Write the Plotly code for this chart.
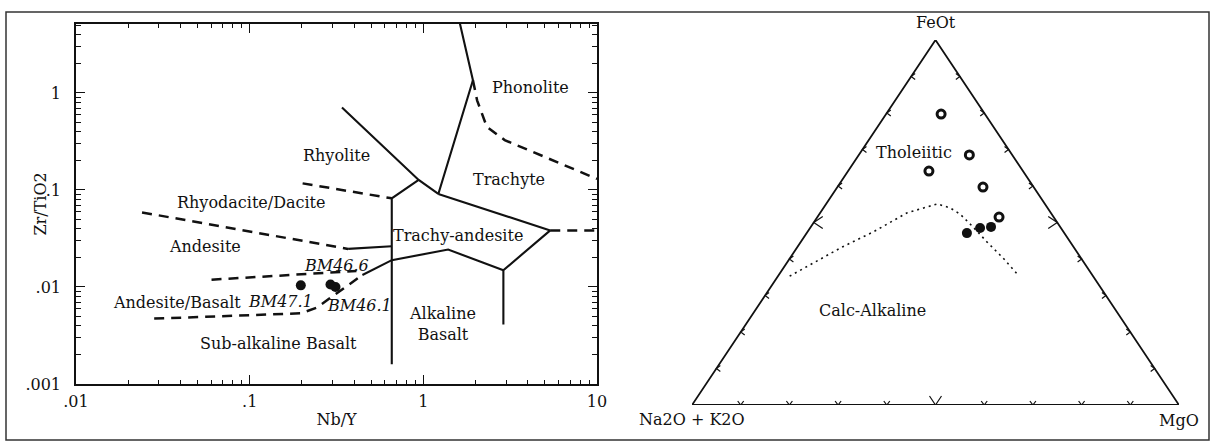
import numpy as np
import plotly.graph_objects as go

FONT = "DejaVu Serif"
INK = "#111111"

# ---------------- Left panel: Zr/TiO2 vs Nb/Y (Winchester & Floyd) ----------------
# solid field boundaries
b1_x = [1.62, 1.93, 1.22]
b1_y = [5.3, 1.35, 0.091]
b2_x = [0.34, 0.94, 1.22]
b2_y = [0.71, 0.127, 0.091]
b3_x = [0.94, 0.658, 0.658]
b3_y = [0.127, 0.082, 0.0016]
b4_x = [1.22, 5.38, 2.89, 2.89]
b4_y = [0.091, 0.0383, 0.0149, 0.0041]
b5_x = [2.89, 1.39, 0.658, 0.446]
b5_y = [0.0149, 0.0243, 0.0189, 0.0133]
b6_x = [0.369, 0.658]
b6_y = [0.0247, 0.0263]

# dashed field boundaries
d1_x = [1.93, 2.04, 2.32, 2.94, 10.0]
d1_y = [1.35, 0.84, 0.448, 0.327, 0.13]
d2_x = [5.38, 10.0]
d2_y = [0.0383, 0.0383]
d3_x = [0.2018, 0.658]
d3_y = [0.117, 0.082]
d4_x = [0.024, 0.369]
d4_y = [0.0587, 0.0247]
d5_x = [0.0603, 0.412]
d5_y = [0.0119, 0.0146]
d6_x = [0.0282, 0.197, 0.243, 0.446]
d6_y = [0.00472, 0.00535, 0.00612, 0.0133]

# samples
sample_names = ["BM47.1", "BM46.6", "BM46.1"]
sample_nby = [0.197, 0.292, 0.312]
sample_zrti = [0.0104, 0.0106, 0.0100]
sample_label_x = [0.150, 0.318, 0.428]
sample_label_y = [0.00716, 0.0168, 0.00646]

# field names
field_names = ["Phonolite", "Rhyolite", "Trachyte", "Rhyodacite/Dacite", "Trachy-andesite",
               "Andesite", "Andesite/Basalt", "Alkaline<br>Basalt", "Sub-alkaline Basalt"]
field_x = [4.14, 0.315, 3.1, 0.103, 1.59, 0.055, 0.0382, 1.29, 0.147]
field_y = [1.15, 0.2256, 0.127, 0.0743, 0.034, 0.0259, 0.00689, 0.00412, 0.00263]

x_tickvals = [0.01, 0.1, 1, 10]
x_ticktext = [".01", ".1", "1", "10"]
y_tickvals = [0.001, 0.01, 0.1, 1]
y_ticktext = [".001", ".01", ".1", "1"]

# ---------------- Right panel: AFM ternary ----------------
# A = Na2O+K2O, F = FeOt, M = MgO (fractions)
open_F = [0.797, 0.685, 0.641, 0.597, 0.515]
open_M = [0.113, 0.227, 0.166, 0.299, 0.373]
filled_F = [0.471, 0.485, 0.488]
filled_M = [0.329, 0.349, 0.370]
tb_F = [0.353, 0.433, 0.474, 0.526, 0.551, 0.540, 0.523, 0.488, 0.447, 0.403, 0.359]
tb_M = [0.024, 0.092, 0.135, 0.178, 0.228, 0.260, 0.289, 0.333, 0.382, 0.437, 0.488]
tern_ticks = [0.1, 0.2, 0.3, 0.4, 0.5, 0.6, 0.7, 0.8, 0.9]


def to_xy(F, M):
    F = np.asarray(F, float)
    M = np.asarray(M, float)
    return M + F / 2.0, F


fig = go.Figure()

for xs, ys in [(b1_x, b1_y), (b2_x, b2_y), (b3_x, b3_y), (b4_x, b4_y), (b5_x, b5_y), (b6_x, b6_y)]:
    fig.add_trace(go.Scatter(x=xs, y=ys, mode="lines", line=dict(color=INK, width=2.1),
                             xaxis="x", yaxis="y", showlegend=False, hoverinfo="skip"))
for xs, ys in [(d1_x, d1_y), (d2_x, d2_y), (d3_x, d3_y), (d4_x, d4_y), (d5_x, d5_y), (d6_x, d6_y)]:
    fig.add_trace(go.Scatter(x=xs, y=ys, mode="lines",
                             line=dict(color=INK, width=2.5, dash="10px,7px"),
                             xaxis="x", yaxis="y", showlegend=False, hoverinfo="skip"))
fig.add_trace(go.Scatter(x=sample_nby, y=sample_zrti, mode="markers",
                         marker=dict(color=INK, size=10, symbol="circle"),
                         xaxis="x", yaxis="y", showlegend=False))

# ternary frame
frame_x, frame_y = to_xy([0, 0, 1, 0], [0, 1, 0, 0])
fig.add_trace(go.Scatter(x=frame_x, y=frame_y, mode="lines", line=dict(color=INK, width=1.8),
                         xaxis="x2", yaxis="y2", showlegend=False, hoverinfo="skip"))

# chevron ticks along the three sides
px_x, px_y = 1 / 487.0, 1 / 365.0
cx, cy = [], []
for f in tern_ticks:
    big = abs(f - 0.5) < 1e-9
    w, d = (6, 9) if big else (3, 4)
    # bottom side (A-M)
    bx, by = f, 0.0
    cx += [bx - w * px_x, bx, bx + w * px_x, None]
    cy += [by + d * px_y, by, by + d * px_y, None]
    # left side (A-F)
    lx, ly = to_xy([f], [0.0])
    lx, ly = float(lx[0]), float(ly[0])
    cx += [lx + d * px_x, lx, lx + d * px_x, None]
    cy += [ly + w * px_y, ly, ly - w * px_y, None]
    # right side (M-F)
    rx, ry = to_xy([f], [1.0 - f])
    rx, ry = float(rx[0]), float(ry[0])
    cx += [rx - d * px_x, rx, rx - d * px_x, None]
    cy += [ry + w * px_y, ry, ry - w * px_y, None]
fig.add_trace(go.Scatter(x=cx, y=cy, mode="lines", line=dict(color=INK, width=1.2),
                         xaxis="x2", yaxis="y2", showlegend=False, hoverinfo="skip"))

tbx, tby = to_xy(tb_F, tb_M)
fig.add_trace(go.Scatter(x=tbx, y=tby, mode="lines", line=dict(color=INK, width=1.6, dash="2px,4px"),
                         xaxis="x2", yaxis="y2", showlegend=False, hoverinfo="skip"))
ox, oy = to_xy(open_F, open_M)
fig.add_trace(go.Scatter(x=ox, y=oy, mode="markers",
                         marker=dict(symbol="circle-open", size=8, color=INK, line=dict(width=3, color=INK)),
                         xaxis="x2", yaxis="y2", showlegend=False))
fx, fy = to_xy(filled_F, filled_M)
fig.add_trace(go.Scatter(x=fx, y=fy, mode="markers",
                         marker=dict(symbol="circle", size=10, color=INK),
                         xaxis="x2", yaxis="y2", showlegend=False))

annotations = []
for name, x, y in zip(field_names, field_x, field_y):
    annotations.append(dict(x=np.log10(x), y=np.log10(y), xref="x", yref="y", text=name,
                            showarrow=False, font=dict(family=FONT, size=16, color=INK)))
for name, x, y in zip(sample_names, sample_label_x, sample_label_y):
    annotations.append(dict(x=np.log10(x), y=np.log10(y), xref="x", yref="y", text="<i>" + name + "</i>",
                            showarrow=False, font=dict(family=FONT, size=16, color=INK)))

annotations += [
    dict(x=0.5, y=1.0, xref="x2", yref="y2", text="FeOt", showarrow=False, yanchor="bottom", yshift=6,
         font=dict(family=FONT, size=16, color=INK)),
    dict(x=0.0, y=0.0, xref="x2", yref="y2", text="Na2O + K2O", showarrow=False, yanchor="top", yshift=-3,
         font=dict(family=FONT, size=16, color=INK)),
    dict(x=1.0, y=0.0, xref="x2", yref="y2", text="MgO", showarrow=False, yanchor="top", yshift=-4,
         font=dict(family=FONT, size=16, color=INK)),
    dict(x=0.456, y=0.693, xref="x2", yref="y2", text="Tholeiitic", showarrow=False,
         font=dict(family=FONT, size=16, color=INK)),
    dict(x=0.370, y=0.258, xref="x2", yref="y2", text="Calc-Alkaline", showarrow=False,
         font=dict(family=FONT, size=16, color=INK)),
    # y-axis title placed by hand
    dict(x=28 / 1212, y=(443 - 204) / 443, xref="paper", yref="paper", text="Zr/TiO2", textangle=-90,
         showarrow=False, font=dict(family=FONT, size=16, color=INK)),
]

minor_x = [m * 10.0 ** e for e in range(-2, 1) for m in range(2, 10)]
minor_y = [m * 10.0 ** e for e in range(-3, 1) for m in range(2, 10)]

axis_common = dict(type="log", showgrid=False, zeroline=False, showline=True, linecolor=INK, linewidth=1.6,
                   mirror="ticks", ticks="inside", ticklen=9, tickwidth=1.3, tickcolor=INK, automargin=False,
                   tickfont=dict(family=FONT, size=16, color=INK))

fig.update_layout(
    width=1212, height=443,
    margin=dict(l=0, r=0, t=0, b=0, autoexpand=False),
    paper_bgcolor="white", plot_bgcolor="white",
    showlegend=False,
    xaxis=dict(**axis_common, range=[-2, 1], domain=[76 / 1212, 597 / 1212], anchor="y",
               tickvals=x_tickvals, ticktext=x_ticktext, ticklabelstandoff=2,
               minor=dict(ticks="inside", ticklen=4, tickwidth=1.1, tickcolor=INK, tickvals=minor_x, showgrid=False),
               title=dict(text="Nb/Y", font=dict(family=FONT, size=16, color=INK), standoff=4)),
    yaxis=dict(**axis_common, range=[-3, 0.711], domain=[59 / 443, 419 / 443], anchor="x",
               tickvals=y_tickvals, ticktext=y_ticktext, ticklabelstandoff=10,
               minor=dict(ticks="inside", ticklen=5, tickwidth=1.1, tickcolor=INK, tickvals=minor_y, showgrid=False)),
    xaxis2=dict(range=[0, 1], domain=[692 / 1212, 1179 / 1212], anchor="y2", visible=False),
    yaxis2=dict(range=[0, 1], domain=[38 / 443, 403 / 443], anchor="x2", visible=False),
    annotations=annotations,
    shapes=[dict(type="rect", xref="paper", yref="paper", x0=6 / 1212, x1=1209 / 1212,
                 y0=3 / 443, y1=431 / 443, line=dict(color="#333333", width=1.5))],
)

fig.write_html("out.html")
